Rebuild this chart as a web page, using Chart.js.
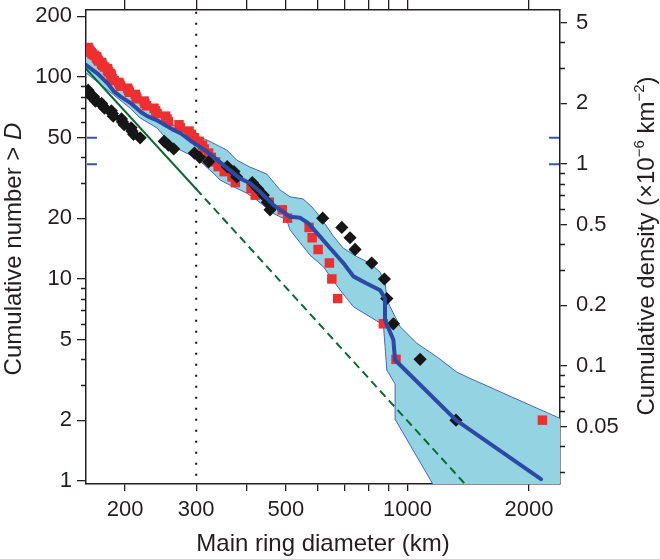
<!DOCTYPE html>
<html><head><meta charset="utf-8">
<script src="https://cdn.jsdelivr.net/npm/chart.js"></script>
<style>html,body{margin:0;padding:0;background:#fff;}#wrap{width:660px;height:559px;}</style>
</head><body><div id="wrap"><canvas id="c" width="660" height="559"></canvas></div>
<script>
// ---- data (diameter D in km, cumulative number N) ----
const redN = [140,138,136,134,132,130,128,126,124,122,120,118,116,114,112,110,108,106,104,102,100,98,96,94,92,90,88,86,84,82,80,78,76,74,72,70,68,66,64,62,60,58,56,54,52,50,48,46,44,42,40,38,36,34,32,30,28,26,24,22,20,18,16,14,12,10,8,6,4,2];
const redD = [162,162,163,164,165,166,168,170,170,171,172,175,175,176,178,181,181,182,184,185,185,186,188,193,194,195,203,204,205,212,213,214,223,224,226,236,238,240,252,254,256,272,274,288,292,297,305,311,314,322,327,335,340,352,368,375,410,420,455,490,505,571,581,601,641,650,672,872,937,2158];
const blackN = [86,84,82,80,78,76,74,72,70,68,66,64,62,60,58,56,54,52,50,48,46,44,42,40,38,36,34,32,30,28,26,24,22,20,18,16,14,12,10,8,6,4,2];
const blackD = [162,162,163,167,168,169,175,176,178,185,186,187,196,197,199,207,208,210,218,250,256,264,297,306,322,358,372,378,413,426,440,450,457,617,688,721,742,816,877,889,923,1075,1319];
const medianD = [158,171,181,188,195,207,219,227,240,260,275,290,319,350,385,408,432,466,493,512,542,568,608,644,694,735,793,856,880,880,887,923,932,1319,2141];
const medianN = [117,104,93,84.6,80,74,67,64,61,55.5,52.5,48.5,42.7,36.7,31.5,29.8,27,23.2,21.5,20.3,20.1,18.9,16.2,14.2,12,10.3,9.5,8.8,8.0,6.27,6.03,5.0,3.97,2.0,1.02];
const bandUpperD = [158,173.4,188.9,205.8,217.9,240,262.9,294.7,318.6,337.3,357.1,378,407.8,448.5,483.8,512.2,551.7,580.7,607.8,655.6,694.1,749.1,808.4,855.8,880.5,890.6,906,932.2,959.2,1054.5,1182.1,1324.5,1428.9,2386.9,3000,3000];
const bandUpperN = [130,113.4,97.7,84.3,76.1,67.1,57.9,52.2,48.8,46.1,43.5,38.8,35.8,33.1,27.6,25.5,24.9,22.7,20.3,16.3,14.2,12.9,11.96,10.8,9.55,7.87,7.29,6.51,5.81,4.81,4.12,3.46,3.22,2.04,2.04,0.5];
const bandLowerD = [158,173.4,188.9,205.8,217.9,240,263.4,301,330.8,343.7,370.7,400.2,423.7,465.7,502.7,512.2,574.1,619.3,681.1,734.7,872.1,880.5,889.1,932.2,934.9,1400];
const bandLowerN = [107,92.3,80.5,70.2,62.7,55.9,45.2,39.6,33.4,30.9,28.6,26.6,24.6,21.1,19.6,17.5,13.1,11.5,8.82,7.29,5.92,4.62,3.54,3.02,2.0,0.5];
const fitSolidD = [158,300];
const fitSolidN = [113,27.9];
const fitDashD = [300,1420];
const fitDashN = [27.9,0.92];
const cutoffD = 300;
const markerN = [50, 37];
// ---- axes ----
const xRange = [160.1, 2386];
const nRange = [0.966, 214.6];
const countPerDensity = 37.1;
const xTickVals = [200,300,400,500,600,700,800,900,1000,2000];
const xTickLabels = [200,300,500,1000,2000];
const nTicks = [1,2,5,10,20,50,100,200];
const nMinor = [3,4,6,7,8,9,30,40,60,70,80,90];
const densTicks = [0.05,0.1,0.2,0.5,1,2,5];
const densMinor = [0.03,0.04,0.06,0.07,0.08,0.09,0.3,0.4,0.6,0.7,0.8,0.9,3,4];
const xTitle = 'Main ring diameter (km)';
const yTitleParts = [{t:'Cumulative number > '},{t:'D',it:true}];
const y2TitleParts = [{t:'Cumulative density (\u00d710'},{t:'\u22126',sup:true},{t:' km'},{t:'\u22122',sup:true},{t:')'}];

const FONT = "'Liberation Sans', Arial, Helvetica, sans-serif";
const INK = '#231f20';
Chart.defaults.font.family = FONT;
Chart.defaults.color = INK;

const pts = (xs, ys) => xs.map((x, i) => ({x, y: ys[i]}));
const bandPoly = pts(bandUpperD, bandUpperN).concat(pts(bandLowerD, bandLowerN).reverse());

const extras = {
  id: 'extras',
  afterDraw(chart) {
    const ctx = chart.ctx, a = chart.chartArea;
    const yL = chart.scales.y, yR = chart.scales.y2;
    ctx.save();
    ctx.strokeStyle = INK; ctx.lineWidth = 1.3;
    ctx.beginPath();
    nMinor.forEach(v => { const p = Math.round(yL.getPixelForValue(v)) + 0.5; ctx.moveTo(a.left - 5, p); ctx.lineTo(a.left, p); });
    densMinor.forEach(v => { const p = Math.round(yR.getPixelForValue(v)) + 0.5; ctx.moveTo(a.right, p); ctx.lineTo(a.right + 5, p); });
    ctx.stroke();
    ctx.strokeStyle = '#3556b0'; ctx.lineWidth = 2;
    ctx.beginPath();
    markerN.forEach(v => { const p = yL.getPixelForValue(v); ctx.moveTo(a.left + 1, p); ctx.lineTo(a.left + 11, p); ctx.moveTo(a.right - 11, p); ctx.lineTo(a.right - 1, p); });
    ctx.stroke();
    const drawTitle = (parts, cx, cy, size) => {
      const fontOf = p => (p.it ? 'italic ' : '') + (p.sup ? Math.round(size * 0.62) : size) + 'px ' + FONT;
      const widths = parts.map(p => { ctx.font = fontOf(p); return ctx.measureText(p.t).width; });
      const total = widths.reduce((s, w) => s + w, 0);
      ctx.save();
      ctx.translate(cx, cy); ctx.rotate(-Math.PI / 2);
      ctx.fillStyle = INK; ctx.textBaseline = 'alphabetic'; ctx.textAlign = 'left';
      let x = -total / 2;
      const base = size * 0.358;
      parts.forEach((p, i) => { ctx.font = fontOf(p); ctx.fillText(p.t, x, base - (p.sup ? size * 0.42 : 0)); x += widths[i]; });
      ctx.restore();
    };
    drawTitle(yTitleParts, 12, (a.top + a.bottom) / 2 + 2, 24);
    drawTitle(y2TitleParts, 645, (a.top + a.bottom) / 2 - 1, 24);
    ctx.restore();
  }
};

const axisGrid = (len) => ({drawOnChartArea: false, drawTicks: true, tickLength: len, color: INK, tickColor: INK, lineWidth: 1.3});
const axisBorder = {display: true, color: INK, width: 1.5};
const noPad = s => { s.paddingTop = 0; s.paddingBottom = 0; s.paddingLeft = 0; s.paddingRight = 0; };

new Chart(document.getElementById('c'), {
  type: 'scatter',
  data: {
    datasets: [
      {label: 'median', data: pts(medianD, medianN), showLine: true, borderColor: '#2b4aa6', borderWidth: 4, pointRadius: 0, fill: false, order: 1, clip: 0, borderJoinStyle: 'round', borderCapStyle: 'round'},
      {label: 'fit', data: pts(fitSolidD, fitSolidN), showLine: true, borderColor: '#0b6a36', borderWidth: 2, pointRadius: 0, fill: false, order: 2, clip: 0},
      {label: 'fit extrapolated', data: pts(fitDashD, fitDashN), showLine: true, borderColor: '#0b6a36', borderWidth: 2, borderDash: [8, 5], pointRadius: 0, fill: false, order: 2, clip: 0},
      {label: 'black', data: pts(blackD, blackN), pointStyle: 'rectRot', pointRadius: 6.6, backgroundColor: '#161616', pointBackgroundColor: '#161616', pointBorderWidth: 0, borderWidth: 0, order: 3, clip: 0},
      {label: 'red', data: pts(redD, redN), pointStyle: 'rect', pointRadius: 6.7, backgroundColor: '#ee2f30', pointBackgroundColor: '#ee2f30', pointBorderWidth: 0, borderWidth: 0, order: 4, clip: 0},
      {label: 'band', data: bandPoly, showLine: true, borderColor: '#4566bd', borderWidth: 1, backgroundColor: '#94d3e2', fill: 'shape', pointRadius: 0, order: 5, clip: 0},
      {label: 'cutoff', data: [{x: cutoffD, y: 0.5}, {x: cutoffD, y: 400}], showLine: true, borderColor: '#111', borderWidth: 2, borderDash: [2, 9], pointRadius: 0, fill: false, order: 6, clip: 0}
    ]
  },
  options: {
    responsive: false,
    animation: false,
    devicePixelRatio: 1,
    events: [],
    layout: {padding: 0},
    plugins: {legend: {display: false}, tooltip: {enabled: false}, title: {display: false}},
    scales: {
      x: {
        type: 'logarithmic', position: 'bottom', min: xRange[0], max: xRange[1],
        afterBuildTicks: s => { s.ticks = xTickVals.map(v => ({value: v})); },
        afterFit: s => { s.height = 75; noPad(s); },
        ticks: {autoSkip: false, maxRotation: 0, padding: 6, font: {size: 22}, color: INK,
          callback: v => xTickLabels.includes(v) ? String(v) : ''},
        grid: axisGrid(7), border: axisBorder,
        title: {display: true, text: xTitle, font: {size: 24}, color: INK, padding: {top: 0, bottom: 0}}
      },
      x2: {
        type: 'logarithmic', position: 'top', min: xRange[0], max: xRange[1],
        afterBuildTicks: s => { s.ticks = xTickVals.map(v => ({value: v})); },
        afterFit: s => { s.height = 10; noPad(s); },
        ticks: {display: false},
        grid: axisGrid(10), border: axisBorder
      },
      y: {
        type: 'logarithmic', position: 'left', min: nRange[0], max: nRange[1],
        afterBuildTicks: s => { s.ticks = nTicks.map(v => ({value: v})); },
        afterFit: s => { s.width = 86; noPad(s); },
        ticks: {autoSkip: false, padding: 5, font: {size: 22}, color: INK, callback: v => String(v)},
        grid: axisGrid(9), border: axisBorder
      },
      y2: {
        type: 'logarithmic', position: 'right', min: nRange[0] / countPerDensity, max: nRange[1] / countPerDensity,
        afterBuildTicks: s => { s.ticks = densTicks.map(v => ({value: v})); },
        afterFit: s => { s.width = 100; noPad(s); },
        ticks: {autoSkip: false, padding: 9, font: {size: 22}, color: INK, callback: v => String(v)},
        grid: axisGrid(7), border: axisBorder
      }
    }
  },
  plugins: [extras]
});
</script>
</body></html>
